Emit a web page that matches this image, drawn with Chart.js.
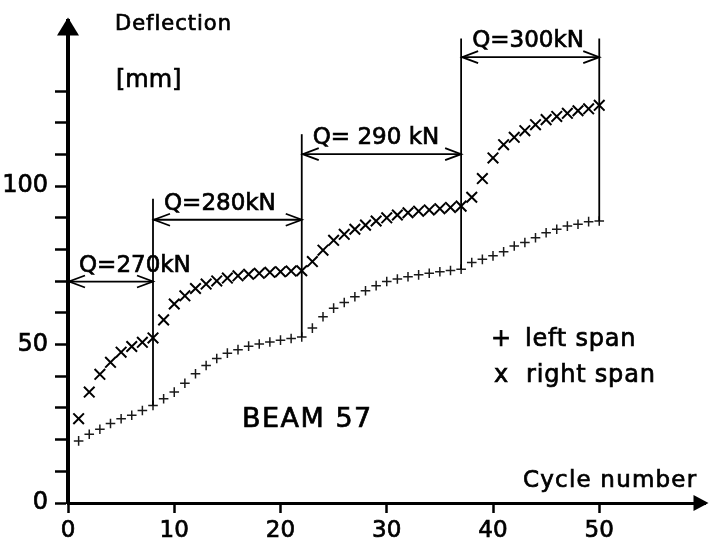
<!DOCTYPE html>
<html>
<head>
<meta charset="utf-8">
<title>BEAM 57 - deflection</title>
<script src="https://cdn.jsdelivr.net/npm/chart.js@4.4.1/dist/chart.umd.min.js"></script>
<style>
  body { margin: 0; background: #fff; }
  #wrap { width: 715px; height: 544px; }
</style>
</head>
<body>
<div id="wrap"><canvas id="beamChart" width="715" height="544"></canvas></div>
<script>
// cycle number of every reading
const cycles = [1, 2, 3, 4, 5, 6, 7, 8, 9, 10,
  11, 12, 13, 14, 15, 16, 17, 18, 19, 20,
  21, 22, 23, 24, 25, 26, 27, 28, 29, 30,
  31, 32, 33, 34, 35, 36, 37, 38, 39, 40,
  41, 42, 43, 44, 45, 46, 47, 48, 49, 50];

// deflection [mm]
const leftSpan = [19.6, 21.7, 23.3, 25.1, 26.6, 27.7, 29.2, 30.8, 32.9, 35.0,
  37.8, 40.8, 43.4, 45.6, 47.3, 48.4, 49.5, 50.2, 50.8, 51.4,
  51.9, 52.4, 55.2, 58.8, 61.5, 63.3, 65.1, 67.0, 68.6, 69.9,
  70.7, 71.4, 72.0, 72.5, 73.0, 73.4, 73.8, 75.9, 76.9, 78.0,
  79.3, 81.1, 82.2, 83.7, 85.3, 86.4, 87.4, 88.0, 88.8, 89.0];

const rightSpan = [26.6, 35.0, 40.6, 44.4, 47.6, 49.4, 50.7, 52.1, 57.8, 62.8,
  65.4, 67.7, 69.1, 70.1, 71.0, 71.7, 72.2, 72.5, 72.8, 73.0,
  73.2, 73.3, 76.2, 79.8, 82.9, 84.8, 86.4, 87.7, 89.0, 90.0,
  90.9, 91.6, 92.1, 92.5, 92.9, 93.3, 93.7, 96.5, 102.4, 108.9,
  113.1, 115.4, 117.5, 119.4, 121.0, 122.0, 123.0, 123.8, 124.4, 125.5];

// load blocks
const qLabels = ['Q=270kN', 'Q=280kN', 'Q= 290 kN', 'Q=300kN'];
const qStart = [0, 8, 22, 37];
const qEnd = [8, 22, 37, 50];

// tick values
const xTicks = [0, 10, 20, 30, 40, 50];
const yTicks = [0, 10, 20, 30, 40, 50, 60, 70, 80, 90, 100, 110, 120, 130];
const yLabelled = [0, 50, 100];

// where the dimension arrows sit (mm) and how high the boundary lines go
const qArrowAt = [69.9, 89.4, 110.1, 140.7];
const qLineTop = [96, 116.4, 146.6, 146.6];

const FONT = '"DejaVu Sans", sans-serif';

// the scanned lettering is a bit heavier than DejaVu regular, so stroke it lightly
function txt(ctx, s, x, y, size, spacing) {
  ctx.font = size + 'px ' + FONT;
  ctx.letterSpacing = (spacing || 0) + 'px';
  ctx.lineWidth = 0.7;
  ctx.fillText(s, x, y);
  ctx.strokeText(s, x, y);
}

function openHead(ctx, x, y, dir) {
  ctx.beginPath();
  ctx.moveTo(x - dir * 16, y - 6);
  ctx.lineTo(x, y);
  ctx.lineTo(x - dir * 16, y + 6);
  ctx.stroke();
}

const overlay = {
  id: 'overlay',
  afterDraw(chart) {
    const { ctx, chartArea } = chart;
    const x = chart.scales.x, y = chart.scales.y;
    ctx.save();
    ctx.strokeStyle = '#000';
    ctx.fillStyle = '#000';

    // axis arrow heads
    const y0 = y.getPixelForValue(0);
    ctx.beginPath();
    ctx.moveTo(chartArea.left, chartArea.top - 4);
    ctx.lineTo(chartArea.left - 11, chartArea.top + 14);
    ctx.lineTo(chartArea.left + 11, chartArea.top + 14);
    ctx.closePath();
    ctx.fill();
    ctx.beginPath();
    ctx.moveTo(chartArea.right + 3, y0);
    ctx.lineTo(chartArea.right - 12, y0 - 8);
    ctx.lineTo(chartArea.right - 12, y0 + 8);
    ctx.closePath();
    ctx.fill();

    // load blocks: dimension arrows, boundary lines, labels
    qLabels.forEach((label, i) => {
      const xa = x.getPixelForValue(qStart[i]);
      const xb = x.getPixelForValue(qEnd[i]);
      const ya = y.getPixelForValue(qArrowAt[i]);
      ctx.lineWidth = 1.8;
      ctx.beginPath();
      ctx.moveTo(xa, ya);
      ctx.lineTo(xb, ya);
      ctx.stroke();
      openHead(ctx, xa + 1, ya, -1);
      openHead(ctx, xb, ya, 1);

      const k = cycles.indexOf(qEnd[i]);
      ctx.beginPath();
      ctx.moveTo(xb, y.getPixelForValue(leftSpan[k]));
      ctx.lineTo(xb, y.getPixelForValue(qLineTop[i]));
      ctx.stroke();

      txt(ctx, label, xa + 11, ya - 10, 23, 0);
    });

    // captions
    txt(ctx, 'Deflection', 115, 30, 21, 1);
    txt(ctx, '[mm]', 116, 87, 24, 0);
    txt(ctx, 'Cycle number', 523, 487, 23, 1.2);
    txt(ctx, 'BEAM 57', 242, 427, 27, 1.5);
    txt(ctx, '+', 491, 346, 24, 0);
    txt(ctx, 'left span', 525, 346, 24, 0.8);
    txt(ctx, 'x', 494, 382, 24, 0);
    txt(ctx, 'right span', 526, 382, 24, 0.8);
    ctx.restore();
  }
};

const ctx = document.getElementById('beamChart').getContext('2d');

const beamChart = new Chart(ctx, {
  type: 'scatter',
  data: {
    datasets: [{
      label: 'left span',
      data: cycles.map((c, i) => ({ x: c, y: leftSpan[i] })),
      pointStyle: 'cross',
      pointRadius: 4.8,
      pointBorderWidth: 1.5,
      borderColor: '#1a1a1a',
      backgroundColor: '#1a1a1a'
    }, {
      label: 'right span',
      data: cycles.map((c, i) => ({ x: c, y: rightSpan[i] })),
      pointStyle: 'crossRot',
      pointRadius: 7.5,
      pointBorderWidth: 2,
      borderColor: '#000',
      backgroundColor: '#000'
    }]
  },
  options: {
    responsive: false,
    animation: false,
    events: [],
    layout: { padding: { top: 20, right: 3, left: 0, bottom: 0 } },
    plugins: {
      legend: { display: false },
      tooltip: { enabled: false }
    },
    scales: {
      x: {
        type: 'linear',
        min: 0,
        max: 60,
        afterBuildTicks: (scale) => { scale.ticks = xTicks.map(v => ({ value: v })); },
        afterFit: (scale) => { scale.height = 41; },
        grid: { drawOnChartArea: false, drawTicks: true, tickLength: 10, tickWidth: 2.5, tickColor: '#000' },
        border: { display: true, color: '#000', width: 3 },
        ticks: {
          color: '#000',
          textStrokeColor: '#000',
          textStrokeWidth: 0.7,
          padding: 4,
          maxRotation: 0,
          autoSkip: false,
          font: { family: 'DejaVu Sans', size: 23 }
        }
      },
      y: {
        type: 'linear',
        min: 0,
        max: 152,
        afterBuildTicks: (scale) => { scale.ticks = yTicks.map(v => ({ value: v })); },
        afterFit: (scale) => { scale.width = 68; },
        grid: { drawOnChartArea: false, drawTicks: true, tickLength: 13, tickWidth: 2.5, tickColor: '#000' },
        border: { display: true, color: '#000', width: 4 },
        ticks: {
          color: '#000',
          textStrokeColor: '#000',
          textStrokeWidth: 0.7,
          padding: 7,
          autoSkip: false,
          font: { family: 'DejaVu Sans', size: 24 },
          callback: (v) => yLabelled.includes(v) ? String(v) : ''
        }
      }
    }
  },
  plugins: [overlay]
});
</script>
</body>
</html>
